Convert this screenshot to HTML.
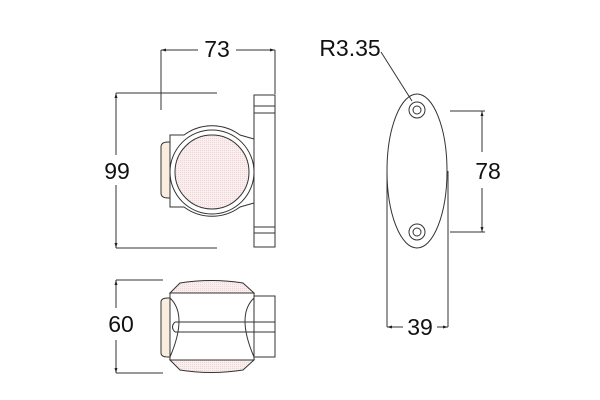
<!DOCTYPE html>
<html><head><meta charset="utf-8"><style>body{margin:0;background:#fff}svg{display:block}</style></head><body>
<svg width="600" height="400" viewBox="0 0 600 400" xmlns="http://www.w3.org/2000/svg" font-family="Liberation Sans, sans-serif">
<defs>
<marker id="a" viewBox="0 0 10 10" refX="10" refY="5" markerWidth="8" markerHeight="5" orient="auto-start-reverse"><path d="M0,2 L10,5 L0,8z" fill="#222"/></marker>
<pattern id="dots" width="2" height="2" patternUnits="userSpaceOnUse"><rect width="2" height="2" fill="#fbeeee"/><rect width="1" height="1" fill="#efd6d6"/></pattern>
</defs>
<g stroke="#333" stroke-width="1" fill="none">
<line x1="161" y1="50" x2="161" y2="110"/><line x1="275" y1="50" x2="275" y2="94"/>
<line x1="161" y1="50" x2="198" y2="50" marker-start="url(#a)"/><line x1="236" y1="50" x2="275" y2="50" marker-end="url(#a)"/>
<line x1="116" y1="93" x2="217" y2="93"/><line x1="116" y1="248" x2="217" y2="248"/>
<line x1="116" y1="93" x2="116" y2="155" marker-start="url(#a)"/><line x1="116" y1="185" x2="116" y2="248" marker-end="url(#a)"/>
<rect x="254" y="95" width="21" height="152" fill="#fff"/>
<line x1="254" y1="106" x2="275" y2="106"/><line x1="254" y1="113" x2="275" y2="113"/>
<line x1="254" y1="227" x2="275" y2="227"/><line x1="254" y1="233" x2="275" y2="233"/>
<path d="M170,135 L184,135 A47,47 0 0 1 240,135 L254,139 L254,203 L240,207 A47,47 0 0 1 184,207 L170,207 Z" fill="#fff"/>
<path d="M161,147 Q161,142 168,142 L170,142 L170,198 L168,198 Q161,198 161,193 Z" fill="#f8eddf"/>
<circle cx="212" cy="172" r="42" fill="#fff"/>
<circle cx="212" cy="172" r="37" fill="url(#dots)"/>
<line x1="116" y1="280" x2="163" y2="280"/><line x1="116" y1="373" x2="163" y2="373"/>
<line x1="116" y1="280" x2="116" y2="308" marker-start="url(#a)"/><line x1="116" y1="340" x2="116" y2="373" marker-end="url(#a)"/>
<path d="M170,293 L180,283 Q211,278 243,283 L254,293 Z" fill="url(#dots)"/>
<path d="M170,360 L180,370 Q211,375 243,370 L254,360 Z" fill="url(#dots)"/>
<rect x="170" y="293" width="84" height="67" fill="#fff"/>
<rect x="254" y="296" width="21" height="61" fill="#fff"/>
<path d="M170,298 Q188,315 170,357 M254,298 Q236,315 254,357" />
<path d="M175,322 L275,322 M175,332 L275,332 M175,322 Q170,327 175,332"/>
<path d="M161,302 Q161,298 168,298 L170,298 L170,357 L168,357 Q161,357 161,353 Z" fill="#f8eddf"/>
<line x1="387" y1="171" x2="387" y2="327"/><line x1="448" y1="171" x2="448" y2="327"/>
<ellipse cx="417" cy="171" rx="30" ry="77" fill="#fff"/>
<circle cx="417" cy="110" r="8"/><circle cx="417" cy="110" r="4"/>
<circle cx="417" cy="232" r="8"/><circle cx="417" cy="232" r="4"/>
<line x1="381" y1="52" x2="412" y2="101"/>
<line x1="387" y1="327" x2="403" y2="327" marker-start="url(#a)"/><line x1="437" y1="327" x2="448" y2="327" marker-end="url(#a)"/>
<line x1="450" y1="111" x2="485" y2="111"/><line x1="450" y1="232" x2="485" y2="232"/>
<line x1="482" y1="111" x2="482" y2="152" marker-start="url(#a)"/><line x1="482" y1="188" x2="482" y2="232" marker-end="url(#a)"/>
</g>
<g font-size="23" fill="#111">
<text x="217" y="57" text-anchor="middle">73</text>
<text x="117" y="179" text-anchor="middle">99</text>
<text x="121" y="332" text-anchor="middle">60</text>
<text x="350" y="56" text-anchor="middle">R3.35</text>
<text x="488" y="179" text-anchor="middle">78</text>
<text x="420" y="335" text-anchor="middle">39</text>
</g>
</svg>
</body></html>
